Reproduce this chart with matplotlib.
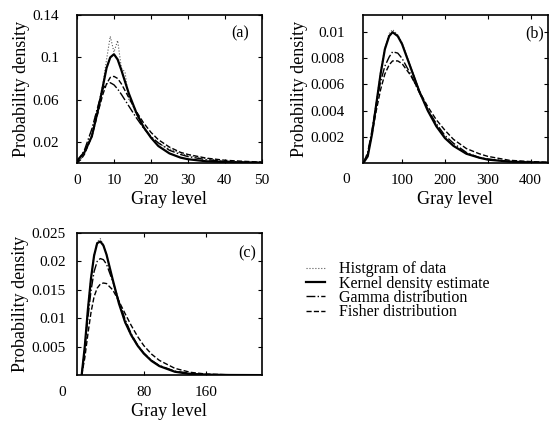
import matplotlib
matplotlib.use('Agg')
import matplotlib.pyplot as plt

plt.rcParams['font.family'] = ['Liberation Serif', 'DejaVu Serif']
plt.rcParams['font.size'] = 11

# ---- panel (a) ----
a_hist_x = [0, 1, 2, 3, 4, 5, 6, 7, 8, 9, 10, 11, 12, 13, 14, 15, 16, 17, 18, 19, 20, 22, 24, 26, 28, 30, 35, 40, 45, 50]
a_hist_y = [0.0, 0.003, 0.010, 0.020, 0.030, 0.045, 0.058, 0.075, 0.098, 0.120, 0.105, 0.116, 0.090, 0.086, 0.060,
            0.055, 0.046, 0.040, 0.033, 0.030, 0.024, 0.019, 0.015, 0.012, 0.009, 0.007, 0.004, 0.002, 0.001, 0.0005]
a_kde_x = [0, 2, 4, 6, 8, 9, 10, 11, 12, 14, 16, 18, 20, 22, 25, 28, 30, 35, 40, 45, 50]
a_kde_y = [0.002, 0.010, 0.025, 0.055, 0.090, 0.100, 0.103, 0.098, 0.088, 0.066, 0.048, 0.034, 0.024, 0.016,
           0.009, 0.005, 0.0035, 0.0015, 0.0008, 0.0004, 0.0002]
a_fit_x = [0, 1, 2, 4, 6, 7, 8, 9, 10, 11, 12, 14, 16, 18, 20, 22, 25, 28, 30, 35, 40, 45, 50]
a_gam_y = [0.0, 0.006, 0.012, 0.032, 0.058, 0.070, 0.075, 0.076, 0.074, 0.070, 0.065, 0.054, 0.043, 0.033, 0.025,
           0.019, 0.012, 0.008, 0.006, 0.003, 0.0015, 0.0007, 0.0003]
a_fis_y = [0.0, 0.003, 0.008, 0.025, 0.052, 0.065, 0.075, 0.081, 0.082, 0.080, 0.075, 0.062, 0.049, 0.038, 0.029,
           0.022, 0.015, 0.010, 0.008, 0.0045, 0.0025, 0.0015, 0.0008]

# ---- panel (b) ----
b_x = [10, 20, 30, 40, 50, 60, 70, 78, 90, 100, 120, 140, 160, 180, 200, 220, 250, 280, 300, 350, 400, 440]
b_hist_y = [0.0, 0.0006, 0.0024, 0.0046, 0.0070, 0.0088, 0.0099, 0.0102, 0.0098, 0.0092, 0.0074, 0.0056, 0.0041,
            0.0029, 0.0020, 0.0013, 0.0007, 0.0004, 0.00027, 0.0001, 0.00005, 0.00002]
b_kde_y = [0.0, 0.0005, 0.0022, 0.0045, 0.0068, 0.0087, 0.0097, 0.0100, 0.0097, 0.0091, 0.0073, 0.0055, 0.0040,
           0.0028, 0.0019, 0.0013, 0.0007, 0.0004, 0.00025, 0.0001, 0.00004, 0.00002]
b_gam_y = [0.0, 0.0008, 0.0025, 0.0045, 0.0062, 0.0074, 0.0081, 0.0085, 0.0084, 0.0080, 0.0068, 0.0054, 0.0041,
           0.0030, 0.0021, 0.0015, 0.0008, 0.0004, 0.0003, 0.0001, 0.00004, 0.00001]
b_fis_y = [0.0, 0.0007, 0.0022, 0.0040, 0.0056, 0.0068, 0.0075, 0.0078, 0.0078, 0.0076, 0.0067, 0.0055, 0.0043,
           0.0033, 0.0025, 0.0018, 0.0011, 0.0007, 0.0005, 0.0002, 0.0001, 0.00005]

# ---- panel (c) ----
c_x = [0, 4, 8, 12, 16, 20, 24, 28, 32, 40, 48, 56, 64, 72, 80, 90, 100, 120, 140, 160, 190, 230]
c_hist_y = [0.0, 0.0052, 0.0118, 0.0172, 0.0212, 0.0234, 0.0240, 0.0229, 0.0213, 0.0167, 0.0126, 0.0092, 0.0068,
            0.0051, 0.0038, 0.0026, 0.0016, 0.0006, 0.0002, 0.0001, 0.00003, 0.00001]
c_kde_y = [0.0, 0.005, 0.0115, 0.017, 0.021, 0.0232, 0.0235, 0.0228, 0.0212, 0.0168, 0.0126, 0.0093, 0.0070,
           0.0052, 0.0038, 0.0025, 0.0016, 0.0006, 0.0002, 0.0001, 0.00003, 0.00001]
c_gam_y = [0.0, 0.0045, 0.0100, 0.0148, 0.0182, 0.0200, 0.0205, 0.0203, 0.0195, 0.0165, 0.0130, 0.0098, 0.0072,
           0.0053, 0.0039, 0.0026, 0.0017, 0.0007, 0.0003, 0.0001, 0.00003, 0.00001]
c_fis_y = [0.0, 0.003, 0.0072, 0.0110, 0.0138, 0.0153, 0.0160, 0.0162, 0.0161, 0.0150, 0.0130, 0.0108, 0.0087,
           0.0068, 0.0052, 0.0037, 0.0026, 0.0012, 0.0005, 0.0002, 0.00006, 0.00002]

legend_labels = ['Histgram of data', 'Kernel density estimate', 'Gamma distribution', 'Fisher distribution']

fig = plt.figure(figsize=(5.5, 4.22), dpi=100)
axa = fig.add_axes([0.140, 0.614, 0.336, 0.350])
axb = fig.add_axes([0.660, 0.614, 0.336, 0.350])
axc = fig.add_axes([0.140, 0.111, 0.336, 0.337])


def draw(ax, hx, hy, kx, ky, fx, gy, fy, ypad):
    ax.plot(hx, hy, color='0.35', lw=0.8, ls=':', label=legend_labels[0])
    ax.plot(kx, ky, color='black', lw=1.6, ls='-', label=legend_labels[1])
    ax.plot(fx, gy, color='black', lw=1.0, ls='-.', label=legend_labels[2])
    ax.plot(fx, fy, color='black', lw=1.0, ls='--', label=legend_labels[3])
    ax.tick_params(direction='in', top=True, right=True, length=3, labelsize=11)
    ax.tick_params(axis='x', pad=8)
    ax.tick_params(axis='y', pad=ypad)
    for s in ax.spines.values():
        s.set_linewidth(1.2)
    ax.set_xlabel('Gray level', fontsize=13, labelpad=3)
    ax.set_ylabel('Probability density', fontsize=13, labelpad=2)


draw(axa, a_hist_x, a_hist_y, a_kde_x, a_kde_y, a_fit_x, a_gam_y, a_fis_y, 13)
axa.set_xlim(0, 50)
axa.set_ylim(0, 0.14)
axa.set_xticks([0, 10, 20, 30, 40, 50])
axa.set_yticks([0.02, 0.06, 0.1, 0.14])
axa.set_yticklabels(['0.02', '0.06', '0.1', '0.14'])
axa.text(0.93, 0.85, '(a)', transform=axa.transAxes, ha='right', fontsize=11.5)

draw(axb, b_x, b_hist_y, b_x, b_kde_y, b_x, b_gam_y, b_fis_y, 13)
axb.set_xlim(9, 440)
axb.set_ylim(0, 0.0113)
axb.set_xticks([100, 200, 300, 400])
axb.set_yticks([0.002, 0.004, 0.006, 0.008, 0.01])
axb.set_yticklabels(['0.002', '0.004', '0.006', '0.008', '0.01'])
axb.text(0.98, 0.85, '(b)', transform=axb.transAxes, ha='right', fontsize=11.5)
axb.text(-0.09, -0.07, '0', transform=axb.transAxes, ha='center', va='top', fontsize=11)

draw(axc, c_x, c_hist_y, c_x, c_kde_y, c_x, c_gam_y, c_fis_y, 8)
axc.set_xlim(-6, 232)
axc.set_ylim(0, 0.025)
axc.set_xticks([80, 160])
axc.set_yticks([0.005, 0.01, 0.015, 0.02, 0.025])
axc.set_yticklabels(['0.005', '0.01', '0.015', '0.02', '0.025'])
axc.text(0.97, 0.83, '(c)', transform=axc.transAxes, ha='right', fontsize=11.5)
axc.text(-0.08, -0.075, '0', transform=axc.transAxes, ha='center', va='top', fontsize=11)

handles, labels = axa.get_legend_handles_labels()
fig.legend(handles, labels, loc='upper left', bbox_to_anchor=(0.53, 0.415), frameon=False,
           handlelength=1.2, handletextpad=0.9, labelspacing=-0.1, fontsize=11.5)

fig.savefig('out.png', dpi=100)
